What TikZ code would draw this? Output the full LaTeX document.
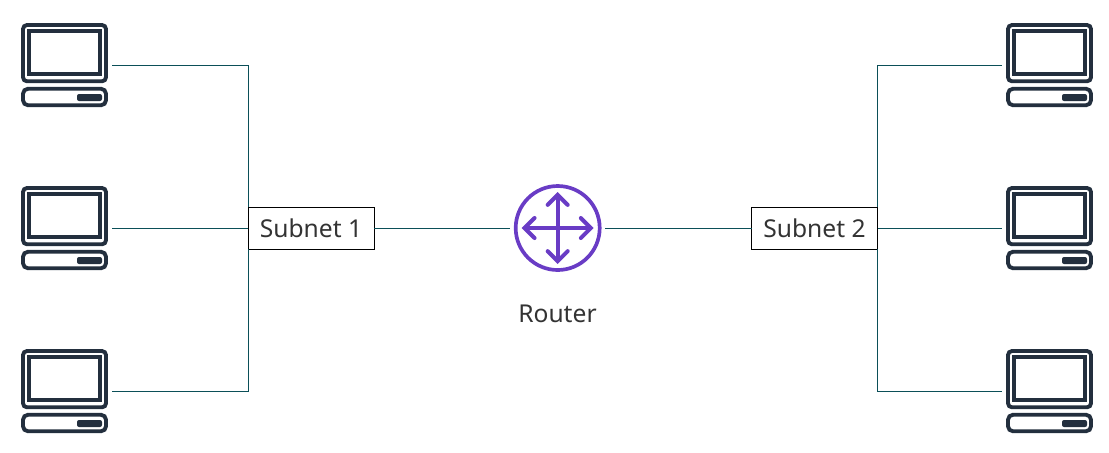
\documentclass[tikz,border=0pt]{standalone}
\usepackage{fontspec}
\setmainfont{Noto Sans}
\usetikzlibrary{arrows.meta}

\definecolor{pcdark}{HTML}{232F3E}
\definecolor{routerpurple}{HTML}{693CC5}
\definecolor{linkteal}{HTML}{0B4F58}

\tikzset{
  pc/.style={minimum width=0.94cm, minimum height=0.85cm, inner sep=0pt},
  subnet/.style={draw=black, line width=0.28pt, fill=white, minimum width=1.26cm, minimum height=0.42cm, inner sep=0pt, outer sep=0pt},
  router/.style={draw=routerpurple, line width=1.05pt, circle, minimum size=0.84cm, inner sep=0pt, outer sep=0.0575cm},
  label/.style={inner sep=0pt, font=\fontsize{7}{8}\selectfont, text=black!80},
  link/.style={draw=linkteal, line width=0.28pt},
  barbs/.style={draw=routerpurple, line width=1.15pt, {Straight Barb[length=0.1cm, width=0.2cm, line width=1.15pt, line cap=round]}-{Straight Barb[length=0.1cm, width=0.2cm, line width=1.15pt, line cap=round]}},
  computer/.pic={
    \draw[pcdark, line width=1.1pt, rounded corners=0.04cm] (-0.415,-0.163) rectangle (0.415,0.40);
    \draw[pcdark, line width=1.1pt] (-0.353,-0.093) rectangle (0.353,0.343);
    \draw[pcdark, line width=1.1pt, rounded corners=0.05cm] (-0.415,-0.4025) rectangle (0.415,-0.2375);
    \fill[pcdark, rounded corners=0.02cm] (0.125,-0.36) rectangle (0.375,-0.29);
  }
}

\begin{document}
\begin{tikzpicture}
  \useasboundingbox (0,0) rectangle (11.09,4.52);

  % Left computers
  \node[pc] (pc1) at (0.645,3.87) {};
  \node[pc] (pc2) at (0.645,2.24) {};
  \node[pc] (pc3) at (0.645,0.61) {};
  \pic at (pc1) {computer};
  \pic at (pc2) {computer};
  \pic at (pc3) {computer};

  % Right computers
  \node[pc] (pc4) at (10.495,3.87) {};
  \node[pc] (pc5) at (10.495,2.24) {};
  \node[pc] (pc6) at (10.495,0.61) {};
  \pic at (pc4) {computer};
  \pic at (pc5) {computer};
  \pic at (pc6) {computer};

  % Subnets
  \node[subnet, label] (subnet1) at (3.11,2.24) {Subnet 1};
  \node[subnet, label] (subnet2) at (8.145,2.24) {Subnet 2};

  % Router
  \node[router] (router) at (5.577,2.24) {};
  \draw[barbs] ([xshift=-0.36cm]router.center) -- ([xshift=0.36cm]router.center);
  \draw[barbs] ([yshift=-0.36cm]router.center) -- ([yshift=0.36cm]router.center);
  \node[label] (routertext) at (5.575,1.385) {Router};

  % Links
  \draw[link] (pc1.east) -| (subnet1.north west);
  \draw[link] (pc2.east) -- (subnet1.west);
  \draw[link] (pc3.east) -| (subnet1.south west);
  \draw[link] (subnet1.east) -- (router.west);
  \draw[link] (router.east) -- (subnet2.west);
  \draw[link] (subnet2.north east) |- (pc4.west);
  \draw[link] (pc5.west) -- (subnet2.east);
  \draw[link] (subnet2.south east) |- (pc6.west);
\end{tikzpicture}
\end{document}
